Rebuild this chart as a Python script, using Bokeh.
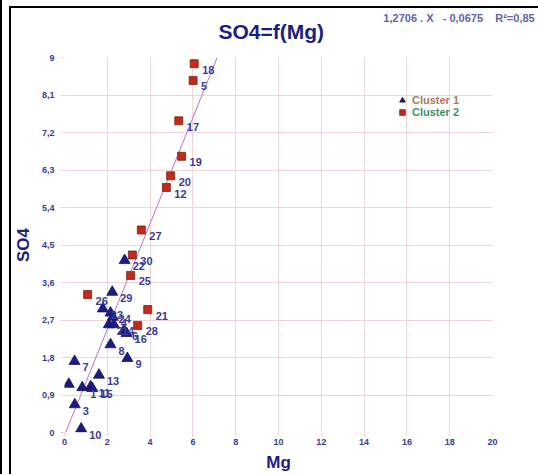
from bokeh.plotting import figure
from bokeh.models import FixedTicker, Title, Legend, LegendItem, ColumnDataSource
from bokeh.embed import file_html
from bokeh.resources import INLINE
from bokeh.core.properties import value

# ---- data ----
c1_labels = ["22", "29", "23", "24", "4", "2", "14", "6", "16", "8", "9", "7",
             "13", "", "1", "11", "15", "3", "10"]
c1_mg = [2.81, 2.23, 1.79, 2.15, 2.26, 2.07, 2.31, 2.78, 2.90, 2.15, 2.94, 0.47,
         1.61, 0.20, 0.83, 1.22, 1.30, 0.48, 0.78]
c1_so4 = [4.13, 3.37, 2.97, 2.87, 2.77, 2.59, 2.59, 2.45, 2.38, 2.11, 1.78, 1.71,
          1.38, 1.16, 1.08, 1.10, 1.06, 0.67, 0.09]

c2_labels = ["18", "5", "17", "19", "20", "12", "27", "30", "25", "26", "21", "28"]
c2_mg = [6.06, 6.01, 5.34, 5.47, 4.96, 4.76, 3.59, 3.17, 3.09, 1.08, 3.89, 3.42]
c2_so4 = [8.85, 8.45, 7.48, 6.63, 6.16, 5.88, 4.86, 4.26, 3.77, 3.31, 2.95, 2.57]

slope = 1.2706
intercept = -0.0675

x_ticks = [0, 2, 4, 6, 8, 10, 12, 14, 16, 18, 20]
y_ticks = [0, 0.9, 1.8, 2.7, 3.6, 4.5, 5.4, 6.3, 7.2, 8.1, 9]
y_tick_labels = ["0", "0,9", "1,8", "2,7", "3,6", "4,5", "5,4", "6,3", "7,2", "8,1", "9"]

title_text = "SO4=f(Mg)"
NB = "\u00a0"
equation_text = ("1,2706" + NB + "." + NB + "X" + NB * 3 + "-" + NB + "0,0675"
                 + NB * 4 + "R\u00b2=0,85")

# ---- styles ----
FONT = "Liberation Sans"
NAVY = "#1e1e7c"
TXT = "#3b3b98"
GRID = "#f0d6d6"

p = figure(width=538, height=474, x_range=(0, 20), y_range=(0, 9),
           output_backend="svg", toolbar_location=None,
           min_border_left=64, min_border_right=46, min_border_top=57,
           min_border_bottom=42)
p.styles = {"box-shadow": "inset 2px 0 0 0 #000000, inset 9px 6px 0 0 #ffffff, "
                          "inset 11px 8px 0 0 #000000"}
p.border_fill_color = None
p.background_fill_color = "white"
p.outline_line_color = None

t_main = Title(text=title_text, align="left", offset=154, standoff=30,
               text_font=FONT, text_font_size="21px", text_font_style="bold",
               text_color=NAVY)
p.add_layout(t_main, "above")

for ax in (p.xaxis[0], p.yaxis[0]):
    ax.axis_line_color = None
    ax.major_tick_line_color = GRID
    ax.major_tick_out = 4
    ax.major_tick_in = 0
    ax.minor_tick_line_color = None
    ax.major_label_text_font = FONT
    ax.major_label_text_font_size = "9px"
    ax.major_label_text_font_style = "bold"
    ax.major_label_text_color = TXT
    ax.axis_label_text_font = FONT
    ax.axis_label_text_font_size = "17px"
    ax.axis_label_text_font_style = "bold"
    ax.axis_label_text_color = NAVY

p.xaxis.ticker = FixedTicker(ticks=x_ticks)
p.yaxis.ticker = FixedTicker(ticks=y_ticks)
p.yaxis.major_label_overrides = dict(zip(y_ticks, y_tick_labels))
p.xaxis.axis_label = "Mg"
p.yaxis.axis_label = "SO4"
p.xaxis.major_label_standoff = 2
p.xaxis.axis_label_standoff = 5
p.yaxis.major_label_standoff = 6
p.yaxis.axis_label_standoff = 6
p.yaxis.major_label_orientation = "horizontal"

p.xgrid.ticker = FixedTicker(ticks=x_ticks)
p.ygrid.ticker = FixedTicker(ticks=y_ticks)
p.grid.grid_line_color = GRID
p.grid.grid_line_width = 1

# regression line
x_end = (y_ticks[-1] - intercept) / slope
x_start = -intercept / slope
p.line([x_start, x_end], [slope * x_start + intercept, slope * x_end + intercept],
       line_color="#b874c8", line_width=1)

# equation text above the top-right of the plotting area (not clipped: overlay)
eq_src = ColumnDataSource(dict(x=[14.9], y=[9.96], t=[equation_text]))
p.text("x", "y", text="t", source=eq_src, text_font=value(FONT),
       text_font_size="11px", text_font_style="bold", text_color="#6262ae",
       text_align="left", text_baseline="middle", level="overlay")

src1 = ColumnDataSource(dict(x=c1_mg, y=c1_so4, t=c1_labels))
src2 = ColumnDataSource(dict(x=c2_mg, y=c2_so4, t=c2_labels))

for src in (src1, src2):
    p.text("x", "y", text="t", source=src, x_offset=8, y_offset=6,
           text_font=value(FONT), text_font_size="11px", text_font_style="bold",
           text_color=TXT, text_align="left", text_baseline="middle",
           level="overlay")

r1 = p.scatter("x", "y", source=src1, marker="triangle", size=11,
               fill_color="#1c1c80", line_color="#14145a", line_width=0.8)
r2 = p.scatter("x", "y", source=src2, marker="square", size=8,
               fill_color="#c42a1c", line_color="#7c2412", line_width=0.8)

leg1 = Legend(items=[LegendItem(label="Cluster 1", renderers=[r1])],
              location=(331, 325), label_text_color="#a87a62")
leg2 = Legend(items=[LegendItem(label="Cluster 2", renderers=[r2])],
              location=(331, 313), label_text_color="#3f8f6f")
for lg in (leg1, leg2):
    lg.border_line_color = None
    lg.background_fill_alpha = 0
    lg.padding = 0
    lg.margin = 0
    lg.spacing = 0
    lg.glyph_width = 14
    lg.glyph_height = 14
    lg.label_height = 11
    lg.label_standoff = 3
    lg.label_text_font = FONT
    lg.label_text_font_size = "11px"
    lg.label_text_font_style = "bold"
    lg.label_text_baseline = "middle"
    p.add_layout(lg, "center")

open("out.html", "w").write(file_html(p, INLINE))
